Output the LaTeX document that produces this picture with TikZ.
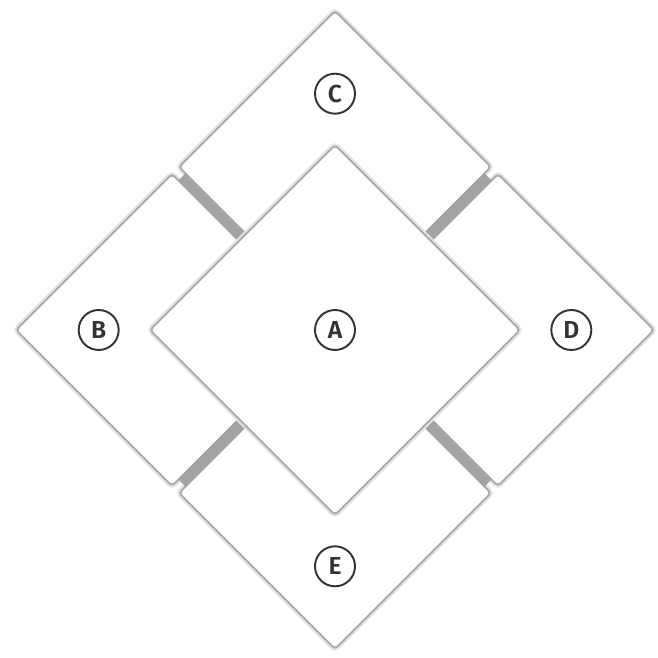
\documentclass[tikz,border=0pt]{standalone}
\usepackage{fontspec}
\setsansfont{Fira Sans}[BoldFont={* SemiBold}]
\usetikzlibrary{positioning,calc,shapes.geometric}

\begin{document}
\begin{tikzpicture}[font=\sffamily]
\tikzset{
  tile/.style={diamond, aspect=1, inner sep=0pt, outer sep=0pt, fill=white, draw=black!32, line width=1.2pt,
    rounded corners=2pt, preaction={draw=black!10, line width=3.4pt}},
  groove/.style={draw=black!36, line width=2.1mm},
  badge/.style={circle, draw=black!80, line width=1.1pt, minimum size=8mm, inner sep=0pt, text=black!80,
    font=\sffamily\bfseries\fontsize{14}{14}\selectfont}
}
\useasboundingbox (0,0) rectangle (13.16,13.16);
\node[diamond, aspect=1, inner sep=0pt, outer sep=0pt, minimum size=12.76cm] (frame) at (6.7,6.56) {};
\node[tile, minimum size=6.24cm] (c) at ($(frame.center)+(0,3.26)$) {};
\node[tile, minimum size=6.24cm] (b) at ($(frame.center)+(-3.26,0)$) {};
\node[tile, minimum size=6.24cm] (d) at ($(frame.center)+(3.26,0)$) {};
\node[tile, minimum size=6.24cm] (e) at ($(frame.center)+(0,-3.26)$) {};
\draw[groove] ($(frame.north west)!0.02!(frame.south east)$) -- ($(frame.south east)!0.02!(frame.north west)$);
\draw[groove] ($(frame.north east)!0.02!(frame.south west)$) -- ($(frame.south west)!0.02!(frame.north east)$);
\node[tile, minimum size=7.4cm] (a) at (frame.center) {};
\node[badge] (la) at (a) {A};
\node[badge] (lb) at ($(b)!0.47!(b.west)$) {B};
\node[badge] (lc) at ($(c)!0.47!(c.north)$) {C};
\node[badge] (ld) at ($(d)!0.47!(d.east)$) {D};
\node[badge] (le) at ($(e)!0.47!(e.south)$) {E};
\end{tikzpicture}
\end{document}
